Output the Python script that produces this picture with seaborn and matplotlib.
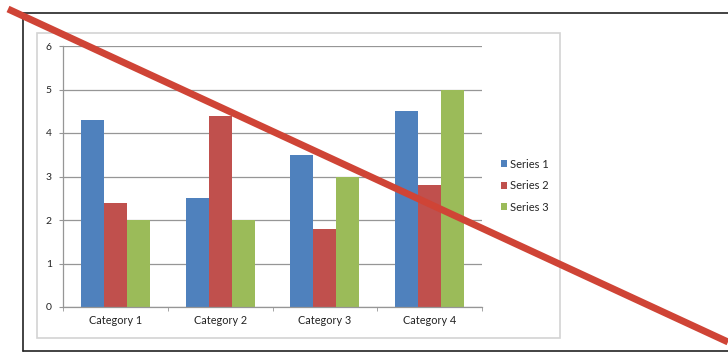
import matplotlib
matplotlib.use("Agg")
import matplotlib.pyplot as plt
from matplotlib.lines import Line2D
from matplotlib.patches import Rectangle
import seaborn as sns
import pandas as pd

categories = ["Category 1", "Category 2", "Category 3", "Category 4"]
series_names = ["Series 1", "Series 2", "Series 3"]
series1 = [4.3, 2.5, 3.5, 4.5]
series2 = [2.4, 4.4, 1.8, 2.8]
series3 = [2.0, 2.0, 3.0, 5.0]
y_ticks = [0, 1, 2, 3, 4, 5, 6]
colors = ["#4F81BD", "#C0504D", "#9BBB59"]

rows = []
for name, vals in zip(series_names, [series1, series2, series3]):
    for c, v in zip(categories, vals):
        rows.append({"category": c, "series": name, "value": v})
df = pd.DataFrame(rows)

sns.set_style("white")
plt.rcParams["font.family"] = ["Lato", "DejaVu Sans"]

W, H = 728, 362
fig = plt.figure(figsize=(W / 100, H / 100), dpi=100)
fig.patch.set_facecolor("white")

def fx(x):
    return x / W

def fy(y):
    return 1 - y / H

# outer black frame (open on the right)
fig.add_artist(Line2D([fx(23), fx(23)], [fy(13), fy(351)], color="#222222", lw=1.2, transform=fig.transFigure))
fig.add_artist(Line2D([fx(23), 1.0], [fy(13), fy(13)], color="#222222", lw=1.2, transform=fig.transFigure))
fig.add_artist(Line2D([fx(23), 1.0], [fy(351), fy(351)], color="#222222", lw=1.2, transform=fig.transFigure))

# inner chart frame
fig.add_artist(Rectangle((fx(37), fy(338)), fx(560) - fx(37), fy(33) - fy(338),
                         transform=fig.transFigure, fill=False, edgecolor="#d3d3d3", lw=1.2))

ax = fig.add_axes([fx(63), fy(307), fx(482) - fx(63), fy(46) - fy(307)])
sns.barplot(data=df, x="category", y="value", hue="series", palette=colors,
            width=0.66, saturation=1, linewidth=0, ax=ax, legend=True)
ax.set_xlabel("")
ax.set_ylabel("")
ax.set_ylim(0, 6)
ax.set_xlim(-0.5, 3.5)
ax.set_yticks(y_ticks)
ax.yaxis.grid(True, color="#969696", lw=0.9)
ax.set_axisbelow(True)
for s in ["top", "right"]:
    ax.spines[s].set_visible(False)
for s in ["left", "bottom"]:
    ax.spines[s].set_color("#969696")
    ax.spines[s].set_linewidth(0.9)
ax.tick_params(axis="y", length=3, color="#969696", labelsize=7.5, labelcolor="#222222", pad=5, left=True)
ax.tick_params(axis="x", length=0, labelsize=7.8, labelcolor="#222222", pad=6)
ax.set_xticks([-0.5, 0.5, 1.5, 2.5, 3.5], minor=True)
ax.tick_params(axis="x", which="minor", length=3, color="#969696", bottom=True)

handles, labels = ax.get_legend_handles_labels()
ax.get_legend().remove()
fig.legend(handles, labels, loc="upper left", bbox_to_anchor=(fx(495), fy(153)),
           frameon=False, fontsize=8, handlelength=0.55, handleheight=0.55,
           handletextpad=0.3, labelspacing=0.95, borderpad=0)

# red diagonal strike-through line
fig.add_artist(Line2D([fx(8), 1.0], [fy(9), fy(342)], color="#CF4436", lw=5.0,
                      solid_capstyle="butt", transform=fig.transFigure))

fig.savefig("out.png", dpi=100, facecolor="white")
